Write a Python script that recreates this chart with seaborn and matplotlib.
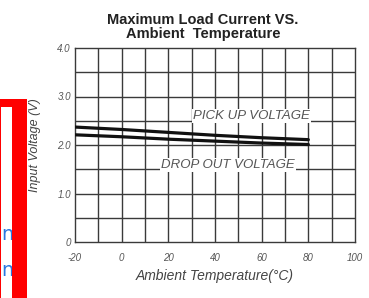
import matplotlib
matplotlib.use('Agg')
import matplotlib.pyplot as plt
from matplotlib.patches import Rectangle
import numpy as np
import pandas as pd
import seaborn as sns

# ── data ──────────────────────────────────────────────────────
temps = [-20, 0, 20, 40, 60, 80]
pickup_v = [2.37, 2.32, 2.26, 2.20, 2.15, 2.11]
dropout_v = [2.21, 2.17, 2.12, 2.08, 2.04, 2.01]

x_ticks = [-20, 0, 20, 40, 60, 80, 100]
y_ticks = [0, 1.0, 2.0, 3.0, 4.0]
y_tick_labels = ['0', '1.0', '2.0', '3.0', '4.0']

df = pd.DataFrame({
    'temp': temps * 2,
    'volt': pickup_v + dropout_v,
    'curve': ['PICK UP VOLTAGE'] * len(temps) + ['DROP OUT VOLTAGE'] * len(temps),
})

sns.set_style('white')
plt.rcParams['font.family'] = ['Liberation Sans', 'DejaVu Sans']

W, H = 369, 298
fig = plt.figure(figsize=(W / 100, H / 100), dpi=100)
ax = fig.add_axes([75 / W, 1 - 242 / H, 280 / W, 194 / H])

# grid first, curves on top
grid_c = '#3a3a3a'
for xv in np.arange(-10, 100, 10):
    ax.axvline(xv, color=grid_c, lw=1.0, zorder=1)
for yv in np.arange(0.5, 4.0, 0.5):
    ax.axhline(yv, color=grid_c, lw=1.0, zorder=1)

sns.lineplot(data=df, x='temp', y='volt', hue='curve', units='curve', estimator=None,
             palette=['#111111', '#111111'], linewidth=2.3, legend=False, ax=ax, zorder=3)

ax.set_xlim(-20, 100)
ax.set_ylim(0, 4.0)
ax.set_xticks(x_ticks)
ax.set_xticklabels([str(t) for t in x_ticks])
ax.set_yticks(y_ticks)
ax.set_yticklabels(y_tick_labels)
for s in ax.spines.values():
    s.set_color(grid_c)
    s.set_linewidth(1.0)
ax.tick_params(axis='both', labelsize=7, colors='#555555', length=2, width=0.8)
for lab in ax.get_xticklabels() + ax.get_yticklabels():
    lab.set_fontstyle('italic')
ax.tick_params(axis='x', pad=6)
ax.tick_params(axis='y', pad=1)

ax.set_xlabel('Ambient Temperature(°C)', fontsize=10, fontstyle='italic', color='#444444', labelpad=4)
ax.set_ylabel('Input Voltage (V)', fontsize=9, fontstyle='italic', color='#444444', labelpad=12)

lbl_kw = dict(fontsize=9.5, fontstyle='italic', color='#555555', ha='center', va='center', zorder=4,
              bbox=dict(facecolor='white', edgecolor='none', pad=0.8))
ax.text(55.5, 2.6, 'PICK UP VOLTAGE', **lbl_kw)
ax.text(45.5, 1.58, 'DROP OUT VOLTAGE', **lbl_kw)

fig.text(203 / W, 1 - 27 / H, 'Maximum Load Current VS.\nAmbient  Temperature',
         ha='center', va='center', fontsize=10.5, fontweight='bold', linespacing=1.0, color='#222222')

# cropped neighbouring content on the left edge of the screenshot
red = '#ff0000'
for x0, y0, w, h in [(0, 99, 27, 8), (12, 107, 15, 191), (0, 107, 1, 191)]:
    fig.patches.append(Rectangle((x0 / W, 1 - (y0 + h) / H), w / W, h / H,
                                 transform=fig.transFigure, facecolor=red,
                                 edgecolor='none', zorder=5))
for yc in [235, 270]:
    fig.text(1 / W, 1 - yc / H, 'n', fontsize=14, color='#2a78e0', ha='left', va='center',
             family='DejaVu Sans', zorder=3)

fig.savefig('out.png', dpi=100)
